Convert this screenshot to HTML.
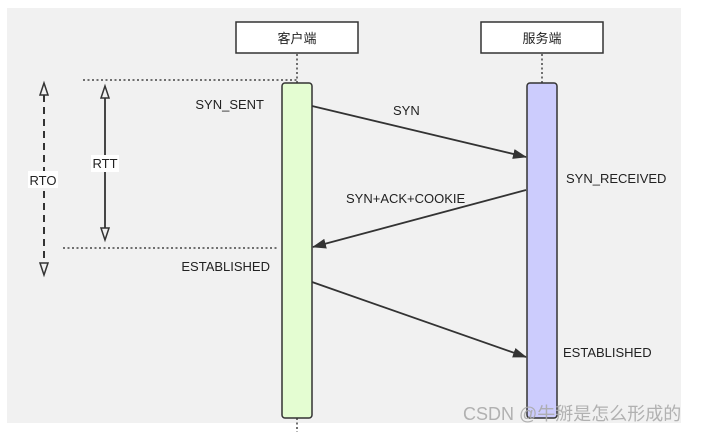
<!DOCTYPE html>
<html><head><meta charset="utf-8"><style>
body{margin:0;background:#fff;width:709px;height:435px;overflow:hidden}
svg{display:block;font-family:"Liberation Sans","Noto Sans CJK SC",sans-serif}
</style></head><body>
<svg width="709" height="435" viewBox="0 0 709 435">
<defs>
<marker id="a" markerWidth="14" markerHeight="10" refX="13" refY="5" orient="auto" markerUnits="userSpaceOnUse"><path d="M0,0 L14,5 L0,10 Z" fill="#333"/></marker>
<marker id="h" markerWidth="12" markerHeight="16" refX="6" refY="1" orient="auto-start-reverse" markerUnits="userSpaceOnUse"></marker>
</defs>
<rect x="7" y="8" width="674" height="415" fill="#f1f1f1"/>
<rect x="236" y="22" width="122" height="31" fill="#fff" stroke="#333" stroke-width="1.5"/>
<text x="297" y="43" font-size="13" text-anchor="middle" fill="#222">客户端</text>
<rect x="481" y="22" width="122" height="31" fill="#fff" stroke="#333" stroke-width="1.5"/>
<text x="542" y="43" font-size="13" text-anchor="middle" fill="#222">服务端</text>
<g stroke="#444" stroke-width="1.5" stroke-dasharray="2,2.5" fill="none">
<line x1="297" y1="54" x2="297" y2="83"/><line x1="542" y1="54" x2="542" y2="83"/>
<line x1="83" y1="80" x2="297" y2="80"/><line x1="63" y1="248" x2="277" y2="248"/>
<line x1="297" y1="418" x2="297" y2="432"/>
</g>
<rect x="282" y="83" width="30" height="335" rx="3" fill="#e4fdd2" stroke="#333" stroke-width="1.5"/>
<rect x="527" y="83" width="30" height="335" rx="3" fill="#ccccfd" stroke="#333" stroke-width="1.5"/>
<line x1="44" y1="95" x2="44" y2="263" stroke="#333" stroke-width="2" stroke-dasharray="7,5"/>
<path d="M44,83 L40,95 L48,95 Z M44,275 L40,263 L48,263 Z" fill="#f1f1f1" stroke="#333" stroke-width="1.5"/>
<line x1="105" y1="98" x2="105" y2="228" stroke="#333" stroke-width="1.8"/>
<path d="M105,86 L101,98 L109,98 Z M105,240 L101,228 L109,228 Z" fill="#f1f1f1" stroke="#333" stroke-width="1.5"/>
<rect x="28" y="171" width="30" height="17" fill="#fff"/>
<text x="43" y="185" font-size="13" text-anchor="middle" fill="#222">RTO</text>
<rect x="91" y="155" width="28" height="17" fill="#fff"/>
<text x="105" y="168" font-size="13" text-anchor="middle" fill="#222">RTT</text>
<g stroke="#333" stroke-width="1.8" marker-end="url(#a)">
<line x1="312" y1="106" x2="526" y2="157"/>
<line x1="526" y1="190" x2="313" y2="247"/>
<line x1="312" y1="282" x2="526" y2="357"/>
</g>
<g font-size="13" fill="#222">
<text x="264" y="109" text-anchor="end">SYN_SENT</text>
<text x="270" y="271" text-anchor="end">ESTABLISHED</text>
<text x="393" y="115">SYN</text>
<text x="566" y="183">SYN_RECEIVED</text>
<text x="346" y="203">SYN+ACK+COOKIE</text>
<text x="563" y="357">ESTABLISHED</text>
</g>
<text x="463" y="420" font-size="18" fill="#aaa" fill-opacity="0.9">CSDN @牛掰是怎么形成的</text>
</svg>
</body></html>
